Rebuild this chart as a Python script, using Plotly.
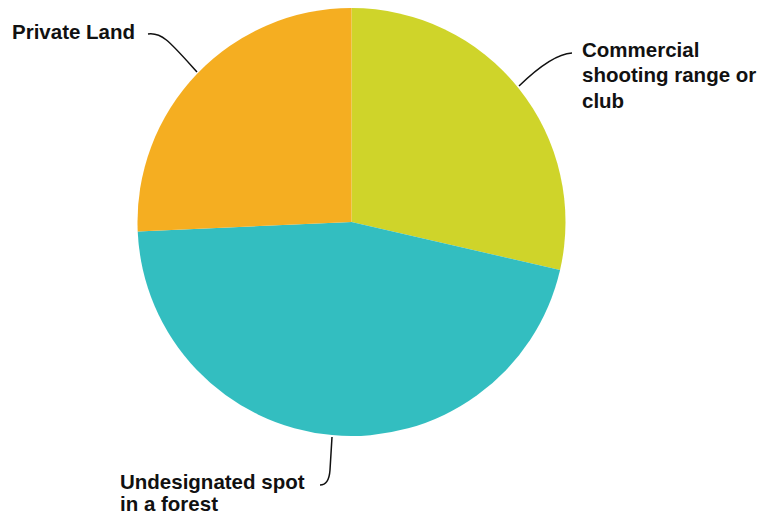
import plotly.graph_objects as go

categories = ["Commercial shooting range or club", "Undesignated spot in a forest", "Private Land"]
label_lines = [["Commercial", "shooting range or", "club"],
               ["Undesignated spot", "in a forest"],
               ["Private Land"]]
values = [28.6, 45.7, 25.7]
colors = ["#CFD42A", "#33BEC0", "#F5AE21"]

OFF = 8  # page body offset
W, H = 766 - 2 * OFF, 525 - 2 * OFF

def px(x, y):
    return (x - OFF) / W, 1 - (y - OFF) / H

def clamp(v):
    return min(1.0, max(0.0, v))

cx, cy, r = 351.5, 222, 214
x0, y0 = px(cx - r, cy + r)
x1, y1 = px(cx + r, cy - r)
fig = go.Figure(go.Pie(
    labels=categories, values=values, sort=False, direction="clockwise", rotation=0,
    marker=dict(colors=colors, line=dict(width=0)),
    textinfo="none", hoverinfo="label+percent", showlegend=False,
    domain=dict(x=[clamp(x0), clamp(x1)], y=[clamp(y0), clamp(y1)]),
))

def path(cmds):
    out = []
    for c in cmds:
        if isinstance(c, str):
            out.append(c)
        else:
            x, y = px(*c)
            out.append(f"{x:.5f},{y:.5f}")
    return " ".join(out)

lines = [
    ["M", (519, 86), "Q", (552, 54), (572, 53)],
    ["M", (148, 34), "C", (162, 32), (170, 42), (197, 72)],
    ["M", (332, 437), "L", (330, 470), "Q", (329, 485), (320, 485)],
]
for l in lines:
    fig.add_shape(type="path", xref="paper", yref="paper", path=path(l),
                  line=dict(color="#111111", width=1.5))

font = dict(family="Liberation Sans, Arial, sans-serif", size=20.5, color="#111111")
starts = [(582, 50, 25), (120, 481, 22), (12, 32, 25)]
for ls, (x, y, dy) in zip(label_lines, starts):
    for i, txt in enumerate(ls):
        ax, ay = px(x - 1, y + dy * i)
        fig.add_annotation(text=f"<b>{txt}</b>", x=ax, y=ay, xref="paper", yref="paper",
                           xanchor="left", yanchor="middle", align="left", showarrow=False,
                           borderpad=0, font=font)

fig.update_layout(width=W, height=H, margin=dict(l=0, r=0, t=0, b=0),
                  paper_bgcolor="white", plot_bgcolor="white")
fig.write_html("out.html")
